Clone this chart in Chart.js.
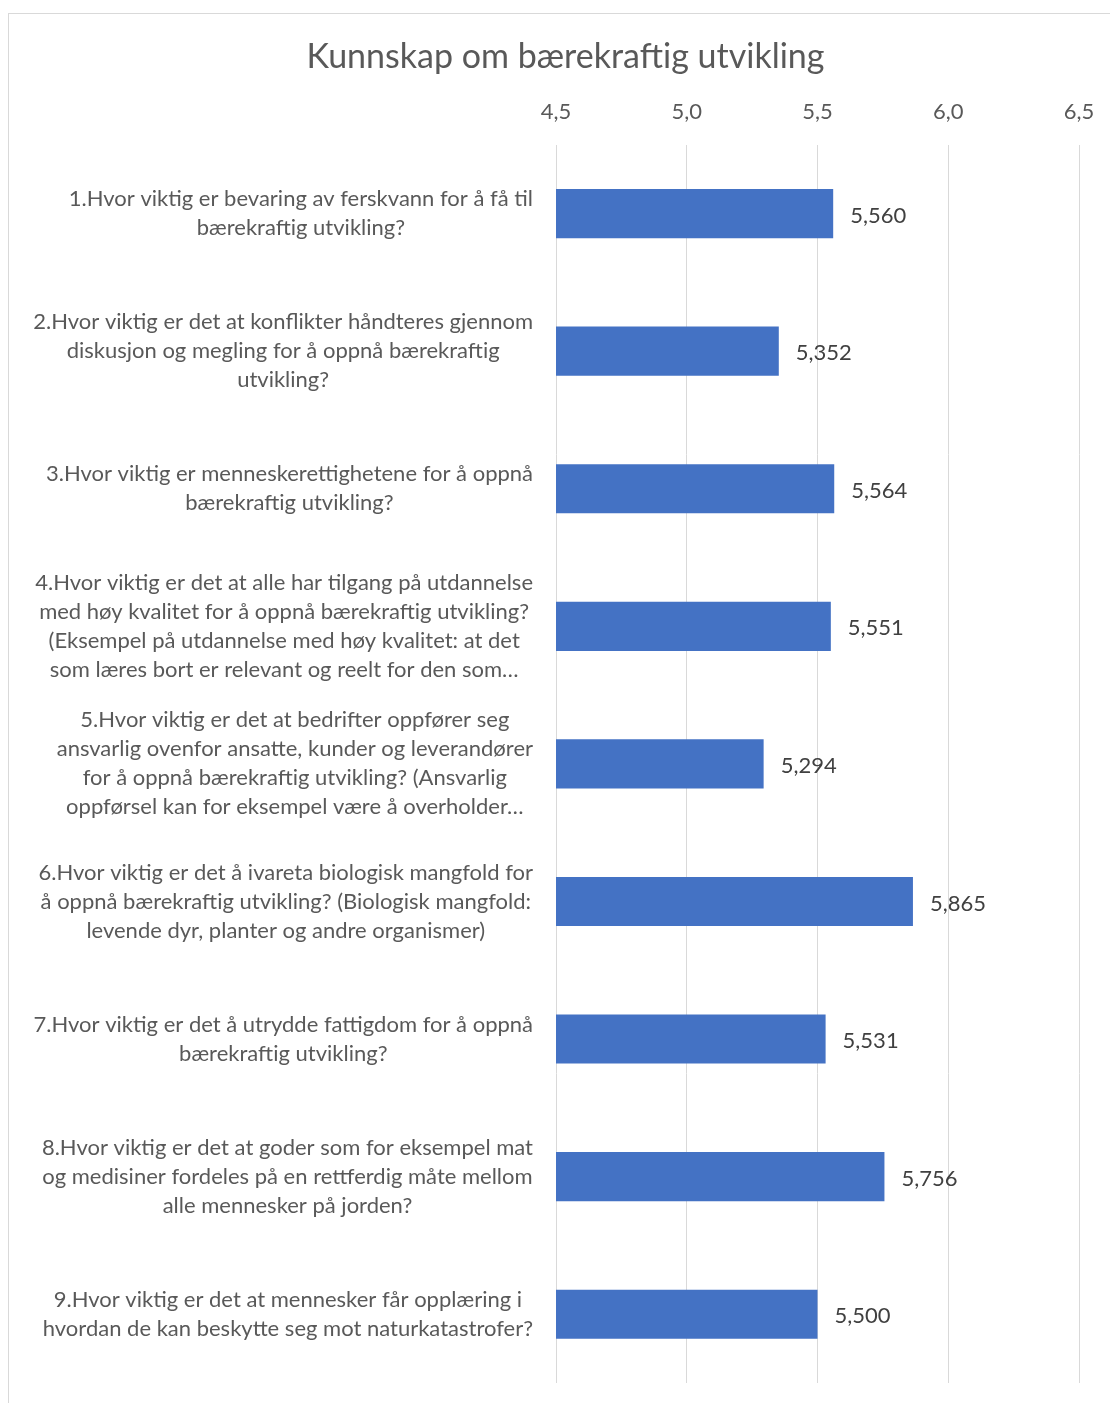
<!DOCTYPE html>
<html>
<head>
<meta charset="utf-8">
<script src="https://cdn.jsdelivr.net/npm/chart.js@4"></script>
<style>
  html, body { margin: 0; padding: 0; background: #fff; overflow: hidden; }
  #wrap { position: relative; width: 1110px; height: 1403px; }
  #frame { position: absolute; left: 8px; top: 13px; width: 1200px; height: 1500px; border: 1px solid #d9d9d9; }
  canvas { position: absolute; left: 0; top: 0; }
</style>
</head>
<body>
<div id="wrap">
  <div id="frame"></div>
  <canvas id="chart" width="1110" height="1403"></canvas>
</div>
<script>
// Spørsmål (kategorier), delt i linjer som i originalen
const questions = [
  ['1.Hvor viktig er bevaring av ferskvann for å få til', 'bærekraftig utvikling?'],
  ['2.Hvor viktig er det at konflikter håndteres gjennom', 'diskusjon og megling for å oppnå bærekraftig', 'utvikling?'],
  ['3.Hvor viktig er menneskerettighetene for å oppnå', 'bærekraftig utvikling?'],
  ['4.Hvor viktig er det at alle har tilgang på utdannelse', 'med høy kvalitet for å oppnå bærekraftig utvikling?', '(Eksempel på utdannelse med høy kvalitet: at det', 'som læres bort er relevant og reelt for den som…'],
  ['5.Hvor viktig er det at bedrifter oppfører seg', 'ansvarlig ovenfor ansatte, kunder og leverandører', 'for å oppnå bærekraftig utvikling? (Ansvarlig', 'oppførsel kan for eksempel være å overholder…'],
  ['6.Hvor viktig er det å ivareta biologisk mangfold for', 'å oppnå bærekraftig utvikling? (Biologisk mangfold:', 'levende dyr, planter og andre organismer)'],
  ['7.Hvor viktig er det å utrydde fattigdom for å oppnå', 'bærekraftig utvikling?'],
  ['8.Hvor viktig er det at goder som for eksempel mat', 'og medisiner fordeles på en rettferdig måte mellom', 'alle mennesker på jorden?'],
  ['9.Hvor viktig er det at mennesker får opplæring i', 'hvordan de kan beskytte seg mot naturkatastrofer?'],
];

// Gjennomsnittsverdier
const averages = [5.560, 5.352, 5.564, 5.551, 5.294, 5.865, 5.531, 5.756, 5.500];

// Akse
const axisMin = 4.5;
const axisMax = 6.5;
const axisStep = 0.5;

const FONT = 'Lato, "Open Sans", sans-serif';
const fmt = (v, d) => v.toFixed(d).replace('.', ',');

// Tegner kategoritekst: blokken høyrejusteres mot aksen, linjene sentreres i blokken
const categoryLabels = {
  id: 'categoryLabels',
  afterDraw(chart) {
    const { ctx, chartArea } = chart;
    const yScale = chart.scales.y;
    const lineH = 29;
    ctx.save();
    ctx.font = '22px ' + FONT;
    ctx.fillStyle = '#595959';
    ctx.textAlign = 'center';
    ctx.textBaseline = 'middle';
    questions.forEach((lines, i) => {
      const y = yScale.getPixelForValue(i);
      const maxW = Math.max(...lines.map(l => ctx.measureText(l).width));
      const cx = chartArea.left - 23 - maxW / 2;
      const top = y - (lines.length - 1) * lineH / 2;
      lines.forEach((l, j) => ctx.fillText(l, cx, top + j * lineH));
    });
    ctx.restore();
  }
};

// Verdietiketter ved enden av hver stolpe
const valueLabels = {
  id: 'valueLabels',
  afterDatasetsDraw(chart) {
    const { ctx } = chart;
    const meta = chart.getDatasetMeta(0);
    ctx.save();
    ctx.font = '22px ' + FONT;
    ctx.fillStyle = '#404040';
    ctx.textAlign = 'left';
    ctx.textBaseline = 'middle';
    meta.data.forEach((bar, i) => {
      ctx.fillText(fmt(averages[i], 3), bar.x + 17, bar.y + 2);
    });
    ctx.restore();
  }
};

new Chart(document.getElementById('chart'), {
  type: 'bar',
  data: {
    labels: questions.map(q => q.join(' ')),
    datasets: [{
      data: averages,
      backgroundColor: '#4472c4',
      borderWidth: 0,
      categoryPercentage: 1,
      barPercentage: 0.357,
    }],
  },
  options: {
    indexAxis: 'y',
    responsive: false,
    animation: false,
    layout: { padding: { top: 0, left: 52, right: 31, bottom: 20 } },
    plugins: {
      legend: { display: false },
      tooltip: { enabled: false },
      title: {
        display: true,
        text: 'Kunnskap om bærekraftig utvikling',
        color: '#595959',
        font: { family: FONT, size: 34, weight: 'normal', lineHeight: 1.2 },
        padding: { top: 37, bottom: 0 },
      },
    },
    scales: {
      x: {
        position: 'top',
        min: axisMin,
        max: axisMax,
        ticks: {
          stepSize: axisStep,
          color: '#595959',
          font: { family: FONT, size: 22 },
          padding: 20,
          callback: v => fmt(v, 1),
        },
        grid: { color: '#d9d9d9', lineWidth: 1, drawTicks: false },
        border: { display: false },
        afterFit: s => { s.height = 67; s.paddingLeft = 0; s.paddingRight = 0; },
      },
      y: {
        ticks: { display: false },
        grid: { display: false },
        border: { display: false },
        afterFit: s => { s.width = 504; },
      },
    },
  },
  plugins: [categoryLabels, valueLabels],
});
</script>
</body>
</html>
